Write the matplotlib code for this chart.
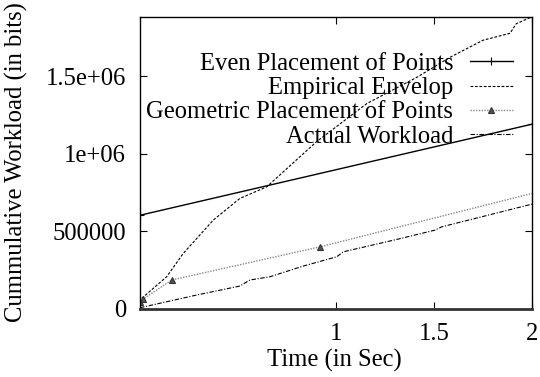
import matplotlib
matplotlib.use("Agg")
import matplotlib.pyplot as plt

plt.rcParams["font.family"] = ["Liberation Serif", "DejaVu Serif"]
plt.rcParams["font.size"] = 17.7

# ── data ─────────────────────────────────────────────────────────────────────
even_t = [0.0, 2.0]
even_w = [602000, 1190000]

env_t = [0.009, 0.136, 0.221, 0.374, 0.51, 0.646, 0.90, 1.157, 1.413,
         1.582, 1.75, 1.888, 1.92, 1.997]
env_w = [66000, 205000, 356000, 571000, 711000, 785000, 1076000, 1323000,
         1493000, 1622000, 1732000, 1777000, 1839000, 1882000]

geo_t = [0.0, 0.017, 0.162, 0.918, 2.0]
geo_w = [45000, 62000, 184000, 398000, 743000]

act_t = [0.0, 0.289, 0.51, 0.561, 0.663, 0.833, 1.004, 1.037, 1.31,
         1.505, 1.539, 2.0]
act_w = [5000, 87000, 145000, 184000, 205000, 274000, 334000, 366000,
         446000, 506000, 527000, 674000]

xticks = [1, 1.5, 2]
xtick_labels = ["1", "1.5", "2"]
yticks = [0, 500000, 1000000, 1500000]
ytick_labels = ["0", "500000", "1e+06", "1.5e+06"]

# ── plot ─────────────────────────────────────────────────────────────────────
fig = plt.figure(figsize=(5.4, 3.77), dpi=100)
ax = fig.add_axes([140 / 540, 1 - 308.5 / 377, 392 / 540, 291.5 / 377])

ax.plot(even_t, even_w, color="black", lw=1.0, marker="+", ms=6, mew=0.8,
        label="Even Placement of Points")
ax.plot(env_t, env_w, color="black", lw=0.8, linestyle=(0, (2.5, 1.5)),
        label="Empirical Envelop")
ax.plot(geo_t, geo_w, color="#888888", lw=1.0, linestyle=(0, (1, 1)),
        marker="^", ms=4, mfc="#555555", mec="#333333", mew=0.8,
        markevery=[0, 1, 2, 3], label="Geometric Placement of Points")
ax.plot(act_t, act_w, color="black", lw=0.8,
        linestyle=(0, (4, 1.5, 1, 1.5)), label="Actual Workload")

ax.set_xlim(0, 2)
ax.set_ylim(0, 1882000)
ax.set_xticks(xticks)
ax.set_xticklabels(xtick_labels)
ax.set_yticks(yticks)
ax.set_yticklabels(ytick_labels)
ax.tick_params(direction="in", length=5, width=0.8, top=True, right=True,
               labelsize=17.7)
ax.tick_params(axis="x", pad=10.5)
ax.tick_params(axis="y", pad=10)
for s in ax.spines.values():
    s.set_linewidth(1.0)
ax.spines["bottom"].set_linewidth(2.0)
ax.spines["bottom"].set_color("#333333")

fig.text(334 / 540, 1 - 360 / 377, "Time (in Sec)", ha="center", va="center",
         fontsize=17.7)
fig.text(16 / 540, 1 - 162 / 377, "Cummulative Workload (in bits)",
         rotation=90, ha="center", va="center", fontsize=17.7)

ax.legend(loc="upper right", bbox_to_anchor=(0.9515, 0.877), frameon=False,
          markerfirst=False, handlelength=1.75, handletextpad=0.69,
          labelspacing=0.08, borderpad=0, borderaxespad=0, fontsize=17.7)

fig.savefig("out.png", dpi=100)
